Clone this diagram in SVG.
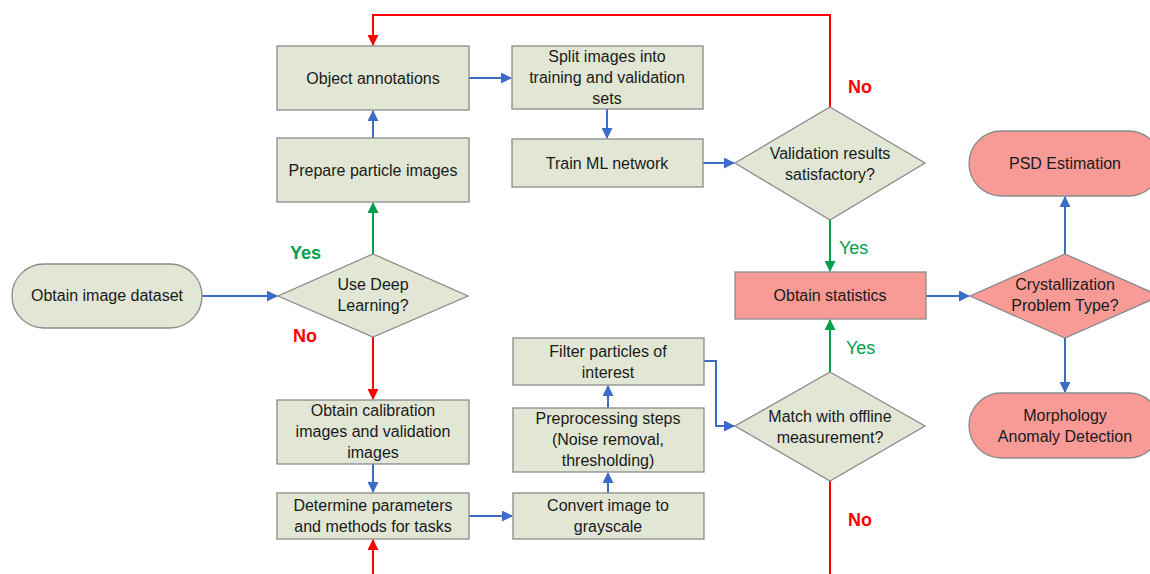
<svg xmlns="http://www.w3.org/2000/svg" width="1150" height="574" viewBox="0 0 1150 574">
<style>
.g{fill:#e1e6d5;stroke:#8a8a8a;stroke-width:1.3}
.p{fill:#f89b97;stroke:#8a8a8a;stroke-width:1.3}
.t{font-family:"Liberation Sans",Arial,sans-serif;font-size:16px;fill:#1a1a1a;text-anchor:middle}
.b{fill:none;stroke:#3b6cc8;stroke-width:2}
.r{fill:none;stroke:#ff0000;stroke-width:2}
.gr{fill:none;stroke:#00a04a;stroke-width:2}
.lr{font-family:"Liberation Sans",Arial,sans-serif;font-size:18px;font-weight:bold;fill:#ff0000}
.lg{font-family:"Liberation Sans",Arial,sans-serif;font-size:18px;font-weight:bold;fill:#00a04a}
.lg2{font-family:"Liberation Sans",Arial,sans-serif;font-size:18px;fill:#00a04a}
</style>
<defs>
<marker id="ab" markerWidth="11" markerHeight="11" refX="10" refY="5.5" orient="auto" markerUnits="userSpaceOnUse"><path d="M0,0 L11,5.5 L0,11 z" fill="#3b6cc8"/></marker>
<marker id="ar" markerWidth="11" markerHeight="11" refX="10" refY="5.5" orient="auto" markerUnits="userSpaceOnUse"><path d="M0,0 L11,5.5 L0,11 z" fill="#ff0000"/></marker>
<marker id="ag" markerWidth="11" markerHeight="11" refX="10" refY="5.5" orient="auto" markerUnits="userSpaceOnUse"><path d="M0,0 L11,5.5 L0,11 z" fill="#00a04a"/></marker>
</defs>

<g id="connectors">
<path class="b" d="M202,296 H277" marker-end="url(#ab)"/>
<path class="gr" d="M373,254 V203" marker-end="url(#ag)"/>
<path class="b" d="M373,138 V111" marker-end="url(#ab)"/>
<path class="r" d="M373,337 V399" marker-end="url(#ar)"/>
<path class="b" d="M373,464 V492" marker-end="url(#ab)"/>
<path class="r" d="M373,574 V540" marker-end="url(#ar)"/>
<path class="b" d="M469,78 H511" marker-end="url(#ab)"/>
<path class="b" d="M607,109 V138" marker-end="url(#ab)"/>
<path class="b" d="M703,163 H734" marker-end="url(#ab)"/>
<path class="r" d="M830,107 V15 H373 V45" marker-end="url(#ar)"/>
<path class="gr" d="M830,220 V271" marker-end="url(#ag)"/>
<path class="b" d="M469,516 H512" marker-end="url(#ab)"/>
<path class="b" d="M608,493 V473" marker-end="url(#ab)"/>
<path class="b" d="M608,408 V386" marker-end="url(#ab)"/>
<path class="b" d="M704,361 H716 V426 H734" marker-end="url(#ab)"/>
<path class="gr" d="M830,372 V320" marker-end="url(#ag)"/>
<path class="r" d="M830,481 V574"/>
<path class="b" d="M926,296 H969" marker-end="url(#ab)"/>
<path class="b" d="M1065,254 V197" marker-end="url(#ab)"/>
<path class="b" d="M1065,338 V392" marker-end="url(#ab)"/>
<text class="lg" x="290" y="259">Yes</text>
<text class="lr" x="293" y="342">No</text>
<text class="lr" x="848" y="93">No</text>
<text class="lg2" x="839" y="254">Yes</text>
<text class="lg2" x="846" y="354">Yes</text>
<text class="lr" x="848" y="526">No</text>
</g>

<g id="obtain-dataset"><rect class="g" x="12" y="264" width="190" height="64" rx="32"/><text class="t" x="107" y="301">Obtain image dataset</text></g>
<g id="use-dl"><polygon class="g" points="373,254 468,296 373,337 278,296"/><text class="t" x="373" y="290">Use Deep</text><text class="t" x="373" y="311">Learning?</text></g>
<g id="prepare"><rect class="g" x="277" y="138" width="192" height="64"/><text class="t" x="373" y="176">Prepare particle images</text></g>
<g id="object-annotations"><rect class="g" x="277" y="46" width="192" height="64"/><text class="t" x="373" y="84">Object annotations</text></g>
<g id="split"><rect class="g" x="512" y="46" width="191" height="63"/><text class="t" x="607" y="62">Split images into</text><text class="t" x="607" y="83">training and validation</text><text class="t" x="607" y="104">sets</text></g>
<g id="train"><rect class="g" x="512" y="139" width="191" height="48"/><text class="t" x="607" y="169">Train ML network</text></g>
<g id="validation"><polygon class="g" points="830,107 925,163 830,220 735,163"/><text class="t" x="830" y="159">Validation results</text><text class="t" x="830" y="180">satisfactory?</text></g>
<g id="obtain-stats"><rect class="p" x="735" y="272" width="191" height="47"/><text class="t" x="830" y="301">Obtain statistics</text></g>
<g id="crystallization"><polygon class="p" points="1065,254 1160,296 1065,338 970,296"/><text class="t" x="1065" y="290">Crystallization</text><text class="t" x="1065" y="311">Problem Type?</text></g>
<g id="psd"><rect class="p" x="969" y="131" width="192" height="65" rx="32.5"/><text class="t" x="1065" y="169">PSD Estimation</text></g>
<g id="morphology"><rect class="p" x="969" y="393" width="192" height="65" rx="32.5"/><text class="t" x="1065" y="421">Morphology</text><text class="t" x="1065" y="442">Anomaly Detection</text></g>
<g id="calibration"><rect class="g" x="277" y="400" width="192" height="64"/><text class="t" x="373" y="416">Obtain calibration</text><text class="t" x="373" y="437">images and validation</text><text class="t" x="373" y="458">images</text></g>
<g id="determine"><rect class="g" x="277" y="493" width="192" height="46"/><text class="t" x="373" y="511">Determine parameters</text><text class="t" x="373" y="532">and methods for tasks</text></g>
<g id="convert"><rect class="g" x="513" y="493" width="191" height="46"/><text class="t" x="608" y="511">Convert image to</text><text class="t" x="608" y="532">grayscale</text></g>
<g id="preprocessing"><rect class="g" x="513" y="408" width="191" height="64"/><text class="t" x="608" y="424">Preprocessing steps</text><text class="t" x="608" y="445">(Noise removal,</text><text class="t" x="608" y="466">thresholding)</text></g>
<g id="filter"><rect class="g" x="513" y="338" width="191" height="47"/><text class="t" x="608" y="357">Filter particles of</text><text class="t" x="608" y="378">interest</text></g>
<g id="match"><polygon class="g" points="830,372 925,426 830,481 735,426"/><text class="t" x="830" y="422">Match with offline</text><text class="t" x="830" y="443">measurement?</text></g>
</svg>
